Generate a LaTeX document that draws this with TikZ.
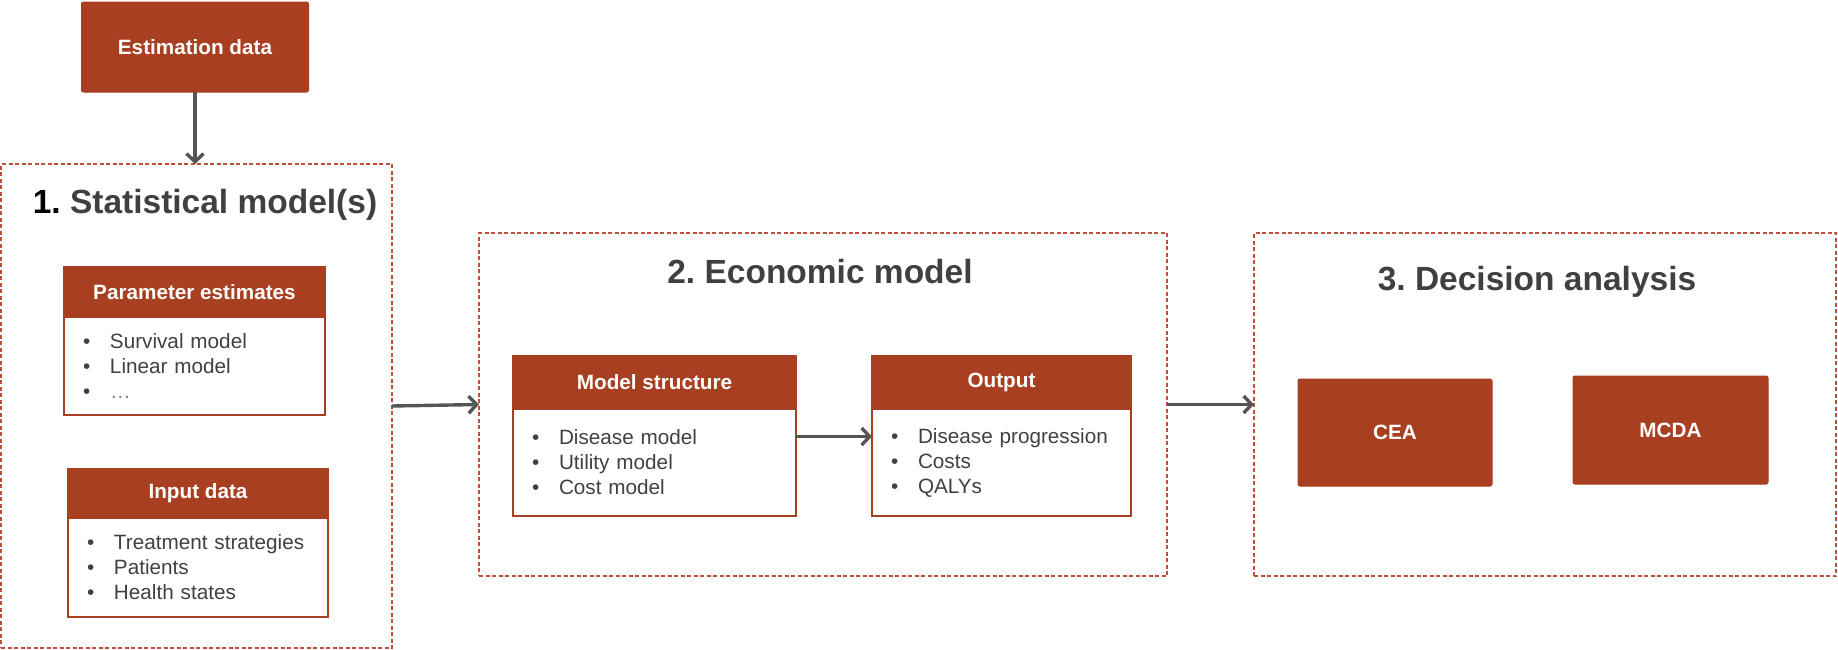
\documentclass[tikz,border=0pt]{standalone}
\usepackage{fontspec}
\setmainfont{Liberation Sans}
\usepackage{tikz}
\usetikzlibrary{arrows.meta,positioning}

\definecolor{brick}{HTML}{A93F21}
\definecolor{dashred}{HTML}{C0503C}
\definecolor{txtgray}{HTML}{404040}
\definecolor{flowgray}{HTML}{555555}

\newcommand{\itm}[1]{\makebox[27pt][l]{\textbullet}#1}
\frenchspacing

\begin{document}
\begin{tikzpicture}[
         x              = 1pt,
         y              = -1pt,
         fillbox/.style = {fill=brick, draw=brick, line width=1pt, rounded corners=2pt,
                           text=white, font=\fontsize{20.7}{25}\selectfont\bfseries,
                           inner sep=0pt, outer sep=0pt},
         hdbox/.style   = {fill=brick, draw=brick, line width=1.5pt, text=white,
                           font=\fontsize{20.7}{25}\selectfont\bfseries,
                           inner sep=0pt, outer sep=0pt},
         bodybox/.style = {draw=brick, line width=1.5pt, text=txtgray, align=left,
                           font=\fontsize{20.7}{25}\selectfont,
                           inner xsep=19pt, inner ysep=0pt, outer sep=0pt},
         groupbox/.style= {draw=dashred, line width=1.2pt, dash pattern=on 4pt off 2.5pt,
                           inner sep=0pt, outer sep=0pt},
         title/.style   = {text=txtgray, font=\fontsize{33.5}{40}\selectfont\bfseries,
                           inner sep=0pt},
         flow/.style    = {draw=flowgray, line width=3.4pt,
                           -{Straight Barb[length=8pt, width=17pt]}}]
             \useasboundingbox (0,0) rectangle (1838,649);
             \node[fillbox, minimum width=227pt, minimum height=90pt] (est) at (195,47) {Estimation data};

             \node[groupbox, minimum width=391pt, minimum height=484pt] (stat) at (196.5,406) {};
             \node[title, anchor=base] (stat-t) at (205,213) {{\color{black}1.} Statistical model(s)};
             \node[hdbox, minimum width=261pt, minimum height=50pt] (par-h) at (194.5,292) {Parameter estimates};
             \node[bodybox, text width=223pt, minimum height=98pt, below=0pt of par-h] (par-b)
                   {\itm{Survival model}\\ \itm{Linear model}\\ \itm{\textcolor{gray}{\ldots}}};
             \node[hdbox, minimum width=260pt, minimum height=49pt] (inp-h) at (198,493.5) {Input data};
             \node[bodybox, text width=222pt, minimum height=99pt, below=0pt of inp-h] (inp-b)
                   {\itm{Treatment strategies}\\ \itm{Patients}\\ \itm{Health states}};

             \node[groupbox, minimum width=688pt, minimum height=343pt] (econ) at (823,404.5) {};
             \node[title, anchor=base] (econ-t) at (820,283) {2. Economic model};
             \node[hdbox, minimum width=283pt, minimum height=53pt] (ms-h) at (654.5,382.5) {Model structure};
             \node[bodybox, text width=245pt, minimum height=107pt, below=0pt of ms-h] (ms-b)
                   {\itm{Disease model}\\ \itm{Utility model}\\ \itm{Cost model}};
             \node[hdbox, minimum width=259pt, minimum height=53pt] (out-h) at (1001.5,382.5) {Output};
             \node[bodybox, text width=221pt, minimum height=107pt, below=0pt of out-h] (out-b)
                   {\itm{Disease progression}\\ \itm{Costs}\\ \itm{QALYs}};

             \node[groupbox, minimum width=582pt, minimum height=343pt] (dec) at (1545,404.5) {};
             \node[title, anchor=base] (dec-t) at (1537,290) {3. Decision analysis};
             \node[fillbox, minimum width=194pt, minimum height=107pt] (cea) at (1395,432.5) {CEA};
             \node[fillbox, minimum width=195pt, minimum height=108pt] (mcda) at (1670.5,430) {MCDA};

             \draw[flow] (est.south) -- (est.south |- stat.north);
             \draw[flow] (stat.east) -- (econ.west);
             \draw[flow] ([yshift=26pt]ms-b.east) -- ([yshift=26pt]out-b.west);
             \draw[flow] (econ.east) -- (dec.west);
\end{tikzpicture}
\end{document}
